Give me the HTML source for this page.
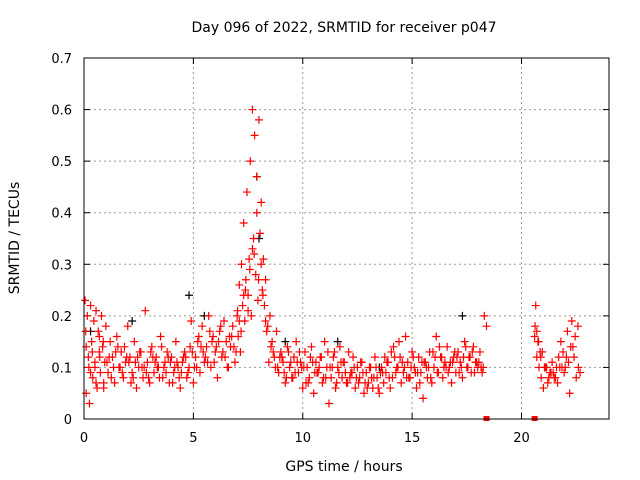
<!DOCTYPE html>
<html><head><meta charset="utf-8"><style>
html,body{margin:0;padding:0;background:#fff;}
svg{display:block;font-family:"DejaVu Sans","Liberation Sans",sans-serif;}
</style></head><body>
<svg id="chart" width="640" height="480">
<text x="344" y="32" font-size="14" text-anchor="middle">Day 096 of 2022, SRMTID for receiver p047</text>
<text x="344" y="471" font-size="14" text-anchor="middle">GPS time / hours</text>
<text transform="translate(19,238) rotate(-90)" font-size="14" text-anchor="middle">SRMTID / TECUs</text>
<g id="grid"></g>
<g id="ticks"></g>
<g id="pts"></g>
<rect x="84" y="58" width="525" height="361" fill="none" stroke="#000" stroke-width="1"/>
</svg>
<script>
const xTicks=[0,5,10,15,20];
const yTicks=[0,0.1,0.2,0.3,0.4,0.5,0.6,0.7];
const yLabels=["0","0.1","0.2","0.3","0.4","0.5","0.6","0.7"];
const redT=[0.05,0.1,0.15,0.2,0.25,0.3,0.35,0.4,0.45,0.5,0.55,0.6,0.65,0.7,0.75,0.8,0.85,0.9,0.95,1.0,1.1,1.2,1.3,1.4,1.5,1.6,1.7,1.8,1.9,2.0,2.1,2.2,2.3,2.4,2.5,2.6,2.7,2.8,2.9,3.0,3.1,3.2,3.3,3.4,3.5,3.6,3.7,3.8,3.9,4.0,4.1,4.2,4.3,4.4,4.5,4.6,4.7,4.8,4.9,5.0,5.1,5.2,5.3,5.4,5.5,5.6,5.7,5.8,5.9,6.0,6.1,6.2,6.3,6.4,6.5,6.6,6.7,6.8,6.9,7.0,7.05,7.1,7.15,7.2,7.25,7.3,7.35,7.4,7.45,7.5,7.55,7.6,7.65,7.7,7.75,7.8,7.85,7.9,7.95,8.0,8.05,8.1,8.15,8.2,8.25,8.3,8.4,8.5,8.6,8.7,8.8,8.9,9.0,9.1,9.2,9.3,9.4,9.5,9.6,9.7,9.8,9.9,10.0,10.1,10.2,10.3,10.4,10.5,10.6,10.7,10.8,10.9,11.0,11.1,11.2,11.3,11.4,11.5,11.6,11.7,11.8,11.9,12.0,12.1,12.2,12.3,12.4,12.5,12.6,12.7,12.8,12.9,13.0,13.1,13.2,13.3,13.4,13.5,13.6,13.7,13.8,13.9,14.0,14.1,14.2,14.3,14.4,14.5,14.6,14.7,14.8,14.9,15.0,15.1,15.2,15.3,15.4,15.5,15.6,15.7,15.8,15.9,16.0,16.1,16.2,16.3,16.4,16.5,16.6,16.7,16.8,16.9,17.0,17.1,17.2,17.3,17.4,17.5,17.6,17.7,17.8,17.9,18.0,18.1,18.2,18.3,18.4,20.6,20.65,20.7,20.75,20.8,20.85,20.9,21.0,21.1,21.2,21.3,21.4,21.5,21.6,21.7,21.8,21.9,22.0,22.1,22.2,22.3,22.4,22.5,22.55,22.6,22.65,22.7];
const redV=[0.23,0.05,0.2,0.12,0.03,0.22,0.15,0.08,0.19,0.1,0.21,0.06,0.17,0.13,0.09,0.2,0.14,0.07,0.11,0.18,0.09,0.15,0.12,0.07,0.16,0.1,0.13,0.08,0.11,0.18,0.12,0.09,0.15,0.06,0.1,0.13,0.08,0.21,0.11,0.07,0.14,0.09,0.12,0.1,0.16,0.08,0.11,0.13,0.07,0.12,0.09,0.15,0.1,0.06,0.11,0.13,0.08,0.1,0.19,0.07,0.12,0.15,0.09,0.18,0.11,0.14,0.2,0.1,0.16,0.13,0.08,0.17,0.12,0.19,0.15,0.1,0.14,0.18,0.11,0.2,0.16,0.26,0.13,0.3,0.22,0.38,0.19,0.27,0.44,0.24,0.31,0.5,0.2,0.6,0.35,0.55,0.28,0.47,0.23,0.58,0.36,0.42,0.25,0.31,0.22,0.27,0.18,0.2,0.15,0.12,0.17,0.09,0.13,0.11,0.07,0.14,0.1,0.08,0.12,0.15,0.09,0.11,0.06,0.13,0.1,0.08,0.14,0.05,0.11,0.09,0.12,0.07,0.15,0.1,0.03,0.08,0.12,0.06,0.1,0.14,0.08,0.11,0.07,0.13,0.09,0.12,0.06,0.1,0.08,0.11,0.05,0.09,0.07,0.1,0.06,0.12,0.08,0.05,0.1,0.07,0.09,0.11,0.06,0.08,0.12,0.1,0.15,0.07,0.09,0.16,0.11,0.08,0.13,0.1,0.06,0.12,0.09,0.04,0.11,0.08,0.13,0.07,0.1,0.16,0.09,0.12,0.08,0.11,0.14,0.1,0.07,0.12,0.09,0.13,0.11,0.08,0.15,0.1,0.12,0.09,0.14,0.11,0.1,0.13,0.09,0.2,0.18,0.16,0.22,0.12,0.15,0.1,0.13,0.08,0.06,0.1,0.07,0.09,0.11,0.08,0.1,0.12,0.15,0.13,0.1,0.17,0.05,0.19,0.12,0.08];
const redT2=[0.1,0.3,0.5,0.7,0.9,1.15,1.35,1.55,1.75,1.95,2.15,2.35,2.55,2.75,2.95,3.15,3.35,3.55,3.75,3.95,4.15,4.35,4.55,4.75,4.95,5.15,5.35,5.55,5.75,5.95,6.15,6.35,6.55,6.75,6.95,7.1,7.3,7.5,7.7,7.9,8.1,8.3,8.55,8.75,8.95,9.15,9.35,9.55,9.75,9.95,10.15,10.35,10.55,10.75,10.95,11.15,11.35,11.55,11.75,11.95,12.15,12.35,12.55,12.75,12.95,13.15,13.35,13.55,13.75,13.95,14.15,14.35,14.55,14.75,14.95,15.15,15.35,15.55,15.75,15.95,16.15,16.35,16.55,16.75,16.95,17.15,17.35,17.55,17.75,17.95,18.15,20.7,20.95,21.15,21.35,21.55,21.75,21.95,22.15,22.35,22.6];
const redV2=[0.14,0.09,0.11,0.16,0.06,0.12,0.1,0.14,0.09,0.12,0.07,0.11,0.13,0.1,0.08,0.12,0.1,0.14,0.09,0.11,0.1,0.08,0.12,0.09,0.13,0.1,0.14,0.12,0.17,0.11,0.15,0.13,0.1,0.16,0.13,0.19,0.24,0.21,0.33,0.4,0.3,0.19,0.14,0.1,0.12,0.09,0.13,0.08,0.11,0.1,0.07,0.12,0.09,0.1,0.08,0.13,0.1,0.07,0.11,0.09,0.08,0.1,0.07,0.09,0.06,0.08,0.1,0.09,0.12,0.08,0.14,0.1,0.11,0.08,0.1,0.09,0.07,0.11,0.1,0.13,0.09,0.12,0.1,0.11,0.13,0.09,0.12,0.1,0.13,0.11,0.1,0.17,0.13,0.1,0.09,0.08,0.1,0.09,0.11,0.14,0.1];
const redT3=[0.08,0.22,0.38,0.55,0.72,0.88,1.05,1.25,1.45,1.65,1.85,2.05,2.25,2.45,2.65,2.85,3.05,3.25,3.45,3.65,3.85,4.05,4.25,4.45,4.65,4.85,5.05,5.25,5.45,5.65,5.85,6.05,6.25,6.45,6.65,6.85,7.02,7.18,7.38,7.58,7.78,7.98,8.18,8.35,8.45,8.65,8.85,9.05,9.25,9.45,9.65,9.85,10.05,10.25,10.45,10.65,10.85,11.05,11.25,11.45,11.65,11.85,12.05,12.25,12.45,12.65,12.85,13.05,13.25,13.45,13.65,13.85,14.05,14.25,14.45,14.65,14.85,15.05,15.25,15.45,15.65,15.85,16.05,16.25,16.45,16.65,16.85,17.05,17.25,17.45,17.65,17.85,18.05,18.25,20.62,20.78,20.88,21.05,21.25,21.45,21.65,21.85,22.05,22.25,22.45,22.58,22.68];
const redV3=[0.17,0.1,0.13,0.07,0.12,0.15,0.11,0.08,0.13,0.1,0.14,0.11,0.08,0.12,0.1,0.09,0.13,0.11,0.08,0.1,0.12,0.07,0.11,0.09,0.12,0.14,0.1,0.16,0.13,0.11,0.15,0.14,0.18,0.12,0.16,0.14,0.21,0.17,0.25,0.29,0.32,0.27,0.24,0.17,0.11,0.13,0.1,0.12,0.08,0.11,0.09,0.13,0.1,0.07,0.11,0.09,0.12,0.08,0.1,0.13,0.09,0.11,0.07,0.09,0.08,0.11,0.07,0.1,0.08,0.06,0.09,0.11,0.13,0.09,0.12,0.1,0.08,0.12,0.09,0.11,0.1,0.08,0.12,0.14,0.1,0.09,0.11,0.12,0.1,0.14,0.12,0.09,0.11,0.1,0.18,0.15,0.12,0.1,0.08,0.09,0.07,0.1,0.12,0.14,0.16,0.18,0.09];
const blackT=[4.8,7.9,9.2,11.6,17.3,0.3,2.2,5.5,8.0,13.5];
const blackV=[0.24,0.47,0.15,0.15,0.2,0.17,0.19,0.2,0.35,0.1];
const baseT=[18.4,20.6];
const SVGNS="http://www.w3.org/2000/svg";
const X0=84,X1=609,Y0=419,Y1=58,XMAX=24,YMAX=0.7;
function xs(t){return X0+(X1-X0)*t/XMAX;}
function ys(v){return Y0-(Y0-Y1)*v/YMAX;}
function mk(tag,attrs,parent){const e=document.createElementNS(SVGNS,tag);for(const k in attrs)e.setAttribute(k,attrs[k]);parent.appendChild(e);return e;}
const grid=document.getElementById('grid'),ticks=document.getElementById('ticks'),pts=document.getElementById('pts');
xTicks.forEach(t=>{const x=xs(t);
 if(t>0){const g=mk('line',{x1:x,x2:x,y1:Y0,y2:Y1,stroke:'#999','stroke-dasharray':'2,3'},grid);
 
 }
 mk('line',{x1:x,x2:x,y1:Y0,y2:Y0-6,stroke:'#000'},ticks);
 mk('line',{x1:x,x2:x,y1:Y1,y2:Y1+6,stroke:'#000'},ticks);
 const l=mk('text',{x:x,y:Y0+23,'font-size':13,'text-anchor':'middle'},ticks);l.textContent=t;
 
 });
yTicks.forEach((v,i)=>{const y=ys(v);
 if(v>0&&v<YMAX){const g=mk('line',{x1:X0,x2:X1,y1:y,y2:y,stroke:'#999','stroke-dasharray':'2,3'},grid);
 
 }
 mk('line',{x1:X0,x2:X0+6,y1:y,y2:y,stroke:'#000'},ticks);
 mk('line',{x1:X1,x2:X1-6,y1:y,y2:y,stroke:'#000'},ticks);
 const l=mk('text',{x:X0-12,y:y+5,'font-size':13,'text-anchor':'end'},ticks);l.textContent=yLabels[i];
 
 });
function plus(t,v,c){const x=xs(t),y=ys(v);
 const p=mk('path',{d:`M${x-4} ${y}H${x+4}M${x} ${y-4}V${y+4}`,stroke:c,'stroke-width':1.2,fill:'none'},pts);
 
 }
blackT.forEach((t,i)=>plus(t,blackV[i],'#000'));
redT.forEach((t,i)=>plus(t,redV[i],'#f00'));
redT2.forEach((t,i)=>plus(t,redV2[i],'#f00'));
redT3.forEach((t,i)=>plus(t,redV3[i],'#f00'));
baseT.forEach(t=>{const r=mk('rect',{x:xs(t)-3,y:Y0-3,width:6,height:5,fill:'#f00'},pts);
 
 });
</script>
</body></html>
